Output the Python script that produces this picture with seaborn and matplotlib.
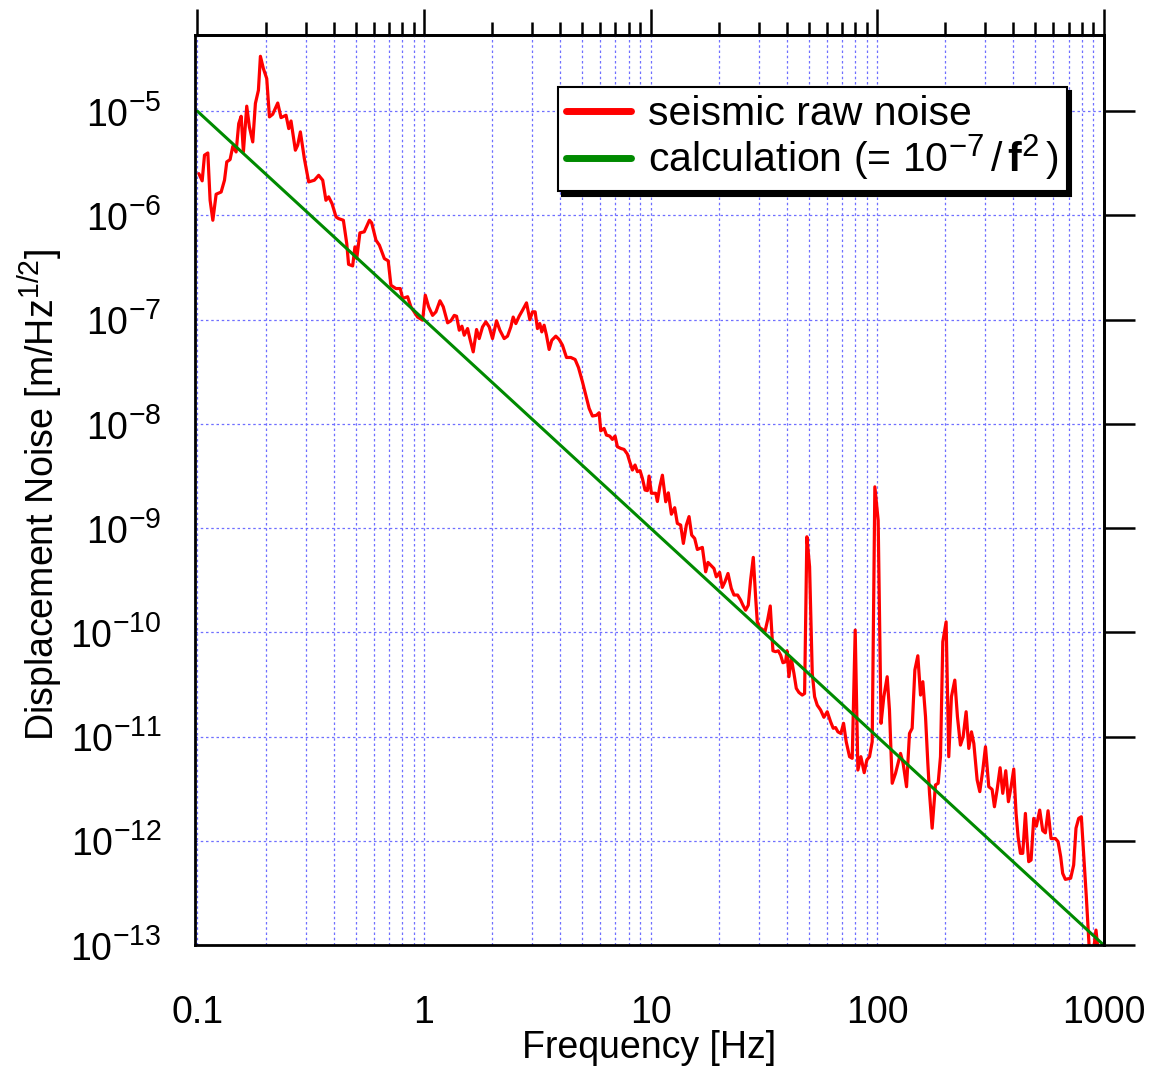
import numpy as np
import pandas as pd
import seaborn as sns
import matplotlib
matplotlib.use('Agg')
import matplotlib.pyplot as plt
from matplotlib.ticker import FixedLocator, LogLocator, NullFormatter, NullLocator, FuncFormatter

# slightly larger super-scripts, as in the reference
try:
    import matplotlib._mathtext as _mt
    _mt.SHRINK_FACTOR = 0.76
except Exception:
    pass

# ---------------- data ----------------
freq_a = [0.1014, 0.1049, 0.1074, 0.1111, 0.1137, 0.1169, 0.1209, 0.1272, 0.1316, 0.1347,
          0.1393, 0.1432, 0.1481, 0.1521, 0.1559, 0.1595, 0.1650, 0.1695, 0.1754, 0.1802,
          0.1858, 0.1896, 0.1954, 0.2022, 0.2078, 0.2148, 0.2261, 0.2338, 0.2460, 0.2529,
          0.2588, 0.2705, 0.2769, 0.2846, 0.2963, 0.3097, 0.3281, 0.3428, 0.3572, 0.3690,
          0.3793, 0.3926, 0.4090, 0.4198, 0.4406, 0.4560, 0.4645, 0.4842, 0.4955, 0.5047,
          0.5212, 0.5445, 0.5741, 0.5875, 0.6138, 0.6353, 0.6683, 0.6950, 0.7145, 0.7516,
          0.7853, 0.8049, 0.8465, 0.8752, 0.9370, 0.9860]
noise_a = [2.52e-6, 2.15e-6, 3.79e-6, 3.98e-6, 1.40e-6, 9.0e-7, 1.60e-6, 1.68e-6, 2.18e-6, 3.27e-6,
           3.44e-6, 4.61e-6, 4.07e-6, 7.62e-6, 8.95e-6, 4.07e-6, 1.12e-5, 7.08e-6, 5.08e-6, 1.19e-5,
           1.59e-5, 3.37e-5, 2.57e-5, 2.06e-5, 8.83e-6, 9.36e-6, 1.20e-5, 8.69e-6, 9.16e-6, 6.82e-6,
           8.07e-6, 4.23e-6, 4.72e-6, 6.34e-6, 3.52e-6, 2.10e-6, 2.18e-6, 2.43e-6, 2.18e-6, 1.40e-6,
           1.51e-6, 1.30e-6, 9.68e-7, 9.33e-7, 9.0e-7, 5.38e-7, 3.40e-7, 3.28e-7, 5.00e-7, 3.86e-7,
           6.81e-7, 6.97e-7, 9.0e-7, 8.49e-7, 5.79e-7, 5.19e-7, 3.86e-7, 3.67e-7, 2.14e-7, 1.99e-7,
           1.99e-7, 1.60e-7, 1.66e-7, 1.33e-7, 1.06e-7, 9.9e-8]

freq_b = [1.013, 1.048, 1.091, 1.129, 1.176, 1.216, 1.271, 1.314, 1.360, 1.392,
          1.431, 1.470, 1.505, 1.557, 1.594, 1.649, 1.706, 1.752, 1.813, 1.875,
          1.940, 2.006, 2.090, 2.162, 2.259, 2.337, 2.417, 2.475, 2.543, 2.630,
          2.721, 2.834, 2.932, 3.012, 3.094, 3.168, 3.244, 3.311, 3.390, 3.472,
          3.567, 3.665, 3.817, 3.949, 4.085, 4.255, 4.446, 4.645, 4.806, 5.006,
          5.178, 5.356, 5.540, 5.769, 5.928, 6.029, 6.236, 6.386, 6.606, 6.787,
          6.973, 7.140, 7.386, 7.640, 7.903, 8.092, 8.315, 8.542, 8.748, 8.988,
          9.205, 9.456, 9.683, 9.849, 10.09, 10.54, 10.72]
noise_b = [1.72e-7, 1.33e-7, 1.10e-7, 1.19e-7, 1.52e-7, 1.33e-7, 9.33e-8, 9.75e-8, 1.10e-7, 1.08e-7,
           7.93e-8, 8.66e-8, 7.10e-8, 8.22e-8, 6.59e-8, 4.91e-8, 8.05e-8, 6.59e-8, 8.53e-8, 9.53e-8,
           8.53e-8, 6.59e-8, 9.75e-8, 7.93e-8, 6.59e-8, 6.95e-8, 8.53e-8, 1.06e-7, 9.18e-8, 1.08e-7,
           1.23e-7, 1.45e-7, 1.00e-7, 1.19e-7, 1.19e-7, 8.22e-8, 9.18e-8, 7.64e-8, 8.85e-8, 7.10e-8,
           5.18e-8, 6.35e-8, 6.95e-8, 6.46e-8, 5.69e-8, 4.34e-8, 4.34e-8, 4.15e-8, 3.48e-8, 2.53e-8,
           1.89e-8, 1.41e-8, 1.19e-8, 1.21e-8, 1.28e-8, 8.59e-9, 9.05e-9, 7.81e-9, 7.64e-9, 7.10e-9,
           7.64e-9, 6.04e-9, 5.82e-9, 5.69e-9, 5.13e-9, 4.33e-9, 3.61e-9, 4.03e-9, 3.48e-9, 3.56e-9,
           3.00e-9, 2.32e-9, 2.29e-9, 3.16e-9, 2.16e-9, 2.16e-9, 1.80e-9]

freq_c = [10.98, 11.28, 11.67, 11.98, 12.36, 12.78, 13.13, 13.58, 13.96, 14.39,
          14.79, 15.19, 15.66, 16.09, 16.93, 17.51, 17.93, 18.42, 19.05, 19.51,
          20.18, 20.74, 21.31, 21.97, 22.72, 23.35, 24.23, 24.98, 25.58, 26.28,
          27.00, 27.65, 28.41, 29.09, 29.59, 30.30, 31.13, 31.98, 32.86, 33.76,
          34.69, 35.65, 36.63, 37.51, 38.41, 39.46, 40.00, 40.82, 41.80, 42.95,
          43.99, 45.17, 46.73, 47.86, 48.98, 50.35, 51.74, 52.98, 54.43, 56.30,
          58.24, 60.25, 62.32, 64.04, 65.57, 67.14, 69.21, 71.12, 73.06, 75.58,
          77.66, 80.05, 82.26, 84.80, 87.72, 90.13, 92.60, 95.15, 97.75, 101.1,
          104.1]
noise_c = [2.49e-9, 3.22e-9, 1.79e-9, 2.18e-9, 1.36e-9, 1.57e-9, 1.11e-9, 1.07e-9, 7.13e-10, 1.07e-9,
           1.29e-9, 8.57e-10, 7.96e-10, 6.24e-10, 6.53e-10, 3.81e-10, 4.69e-10, 4.42e-10, 4.10e-10, 3.41e-10,
           3.76e-10, 2.70e-10, 3.06e-10, 3.67e-10, 2.64e-10, 2.28e-10, 2.28e-10, 2.04e-10, 1.82e-10, 1.63e-10,
           1.82e-10, 3.17e-10, 5.24e-10, 2.19e-10, 1.26e-10, 1.11e-10, 1.07e-10, 1.01e-10, 1.31e-10, 1.79e-10,
           6.65e-11, 6.52e-11, 6.65e-11, 6.05e-11, 5.11e-11, 5.22e-11, 6.65e-11, 3.75e-11, 5.62e-11, 4.04e-11,
           2.90e-11, 2.65e-11, 2.50e-11, 2.59e-11, 8.26e-10, 4.26e-10, 4.04e-11, 2.41e-11, 2.00e-11, 1.80e-11,
           1.53e-11, 1.73e-11, 1.39e-11, 1.20e-11, 1.22e-11, 1.11e-11, 1.07e-11, 1.34e-11, 8.92e-12, 6.41e-12,
           6.18e-12, 1.05e-10, 4.77e-12, 6.41e-12, 4.50e-12, 5.96e-12, 6.41e-12, 8.92e-12, 2.49e-9, 1.19e-9,
           1.34e-11]

freq_d = [107.1, 110.8, 113.4, 116.6, 120.6, 126.9, 130.3, 134.9, 139.0, 142.8,
          146.8, 151.3, 155.5, 159.2, 163.6, 167.5, 170.4, 175.0, 181.0, 186.0,
          190.5, 195.0, 201.7, 207.2, 212.9, 220.3, 226.3, 233.3, 239.8, 247.2,
          254.0, 261.0, 267.3, 276.5, 284.0, 292.9, 300.9, 311.2, 321.9, 329.6,
          338.6, 349.1, 358.7, 369.8, 379.9, 390.4, 401.1, 410.7, 419.2, 429.2,
          439.5, 451.5, 459.2, 467.0, 478.3, 491.4, 504.9, 522.3, 538.5, 553.2,
          568.4, 586.0, 612.3, 629.2, 646.4, 659.6, 677.7, 715.3, 737.4, 755.1,
          775.9, 797.2, 816.3, 838.6, 864.6, 903.5, 925.2, 944.3]
noise_d = [2.41e-11, 3.75e-11, 1.80e-11, 3.56e-12, 4.43e-12, 6.89e-12, 5.53e-12, 3.30e-12, 1.07e-11, 1.20e-11,
           4.35e-11, 5.96e-11, 2.50e-11, 3.36e-11, 1.55e-11, 5.53e-12, 2.85e-12, 1.32e-12, 3.43e-12, 3.56e-12,
           6.41e-12, 8.12e-11, 1.26e-10, 6.41e-12, 2.41e-11, 3.48e-11, 1.55e-11, 8.28e-12, 9.96e-12, 1.73e-11,
           7.69e-12, 1.11e-11, 8.59e-12, 3.83e-12, 2.96e-12, 4.77e-12, 7.98e-12, 3.30e-12, 3.11e-12, 2.12e-12,
           3.07e-12, 5.02e-12, 2.85e-12, 4.70e-12, 2.37e-12, 3.30e-12, 4.88e-12, 1.83e-12, 1.09e-12, 7.57e-13,
           7.57e-13, 1.83e-12, 1.02e-12, 6.30e-13, 6.53e-13, 1.64e-12, 1.38e-12, 1.97e-12, 1.25e-12, 1.19e-12,
           1.94e-12, 1.05e-12, 1.05e-12, 9.8e-13, 7.03e-13, 4.86e-13, 4.26e-13, 4.37e-13, 5.85e-13, 1.32e-12,
           1.64e-12, 1.70e-12, 7.57e-13, 2.91e-13, 9e-14, 9e-14, 1.39e-13, 9e-14]

calc_freq = [0.1, 1000.0]
calc_noise = [1e-5, 1e-13]

x_tick_values = [0.1, 1, 10, 100, 1000]
x_tick_labels = ['0.1', '1', '10', '100', '1000']
y_tick_exponents = [-13, -12, -11, -10, -9, -8, -7, -6, -5]

label_seismic = 'seismic raw noise'
label_calc = r'calculation (= 10$^{-7}\,$/$\,\mathbf{f}^{2}\,$)'

# ---------------- style ----------------
sns.set_theme(style='white')
plt.rcParams['font.family'] = ['Liberation Sans', 'DejaVu Sans']
plt.rcParams['mathtext.fontset'] = 'custom'
plt.rcParams['mathtext.rm'] = 'Liberation Sans'
plt.rcParams['mathtext.sf'] = 'Liberation Sans'
plt.rcParams['mathtext.it'] = 'Liberation Sans:italic'
plt.rcParams['mathtext.bf'] = 'Liberation Sans:bold'

seismic = pd.DataFrame({'f': freq_a + freq_b + freq_c + freq_d,
                        'n': noise_a + noise_b + noise_c + noise_d})
calc = pd.DataFrame({'f': calc_freq, 'n': calc_noise})

fig = plt.figure(figsize=(11.51, 10.72), dpi=100)
ax = fig.add_axes([0.1694, 0.1185, 0.7897, 0.8489])
ax.set_xscale('log')
ax.set_yscale('log')

sns.lineplot(data=seismic, x='f', y='n', ax=ax, sort=False, estimator=None,
             color='#ff0000', linewidth=2.3, label=label_seismic)
sns.lineplot(data=calc, x='f', y='n', ax=ax, sort=False, estimator=None,
             color='#008a00', linewidth=2.2, label=label_calc)

ax.set_xlim(0.0975, 1003)
ax.set_ylim(1e-13, 5.4e-5)

y_ticks = [10.0 ** e for e in y_tick_exponents]
ax.xaxis.set_major_locator(FixedLocator(x_tick_values))
ax.xaxis.set_major_formatter(FuncFormatter(lambda v, p: x_tick_labels[x_tick_values.index(v)] if v in x_tick_values else ''))
ax.xaxis.set_minor_locator(LogLocator(base=10, subs=np.arange(2, 10), numticks=30))
ax.xaxis.set_minor_formatter(NullFormatter())
ax.yaxis.set_major_locator(FixedLocator(y_ticks))
ax.yaxis.set_major_formatter(FuncFormatter(lambda v, p: r'$10^{%d}$' % int(round(np.log10(v)))))
ax.yaxis.set_minor_locator(NullLocator())

ax.tick_params(axis='x', which='major', direction='out', length=20, width=1.8,
               labelsize=27, pad=16, top=False, color='black', labelcolor='black')
ax.tick_params(axis='x', which='minor', direction='out', length=10, width=1.8, top=False, color='black')
ax.tick_params(axis='y', which='major', direction='out', length=21, width=1.8,
               labelsize=27, pad=3, right=False, color='black', labelcolor='black')

ax.set_axisbelow(True)
grid_kw = dict(color='#6f6fff', linestyle=(0, (2.0, 2.2)), linewidth=0.9)
ax.grid(True, which='major', axis='both', **grid_kw)
ax.grid(True, which='minor', axis='x', **grid_kw)

for s in ax.spines.values():
    s.set_visible(True)
    s.set_color('black')
    s.set_linewidth(2.0)

# top axis ticks
secx = ax.secondary_xaxis('top')
secx.xaxis.set_major_locator(FixedLocator(x_tick_values))
secx.xaxis.set_minor_locator(LogLocator(base=10, subs=np.arange(2, 10), numticks=30))
secx.xaxis.set_major_formatter(NullFormatter())
secx.xaxis.set_minor_formatter(NullFormatter())
secx.tick_params(axis='x', which='major', direction='out', length=19, width=1.8, color='black')
secx.tick_params(axis='x', which='minor', direction='out', length=9.5, width=1.8, color='black')
secx.spines['top'].set_linewidth(2.0)
secx.spines['top'].set_color('black')

# right axis ticks
secy = ax.secondary_yaxis('right')
secy.yaxis.set_major_locator(FixedLocator(y_ticks))
secy.yaxis.set_minor_locator(NullLocator())
secy.yaxis.set_major_formatter(NullFormatter())
secy.tick_params(axis='y', which='major', direction='out', length=22, width=1.8, color='black')
secy.spines['right'].set_linewidth(2.0)
secy.spines['right'].set_color('black')

ax.set_xlabel('Frequency [Hz]', fontsize=27, color='black')
ax.xaxis.set_label_coords(0.5, -0.093)
ax.set_ylabel(r'Displacement Noise [m/Hz$^{1/2}$]', fontsize=27, color='black')
ax.yaxis.set_label_coords(-0.143, 0.4945)

leg = ax.legend(loc='upper right', bbox_to_anchor=(0.9593, 0.9429), borderaxespad=0,
                fontsize=29.5, frameon=True, fancybox=False, edgecolor='black', framealpha=1,
                shadow={'ox': 3, 'oy': -3, 'color': 'black', 'alpha': 1},
                handlelength=1.6, handletextpad=0.4, borderpad=0.2, labelspacing=0.0)
leg.get_frame().set_linewidth(1.5)
for t in leg.get_texts():
    t.set_color('black')
for l in leg.get_lines():
    l.set_linewidth(5)

fig.savefig('out.png', dpi=100, facecolor='white')
